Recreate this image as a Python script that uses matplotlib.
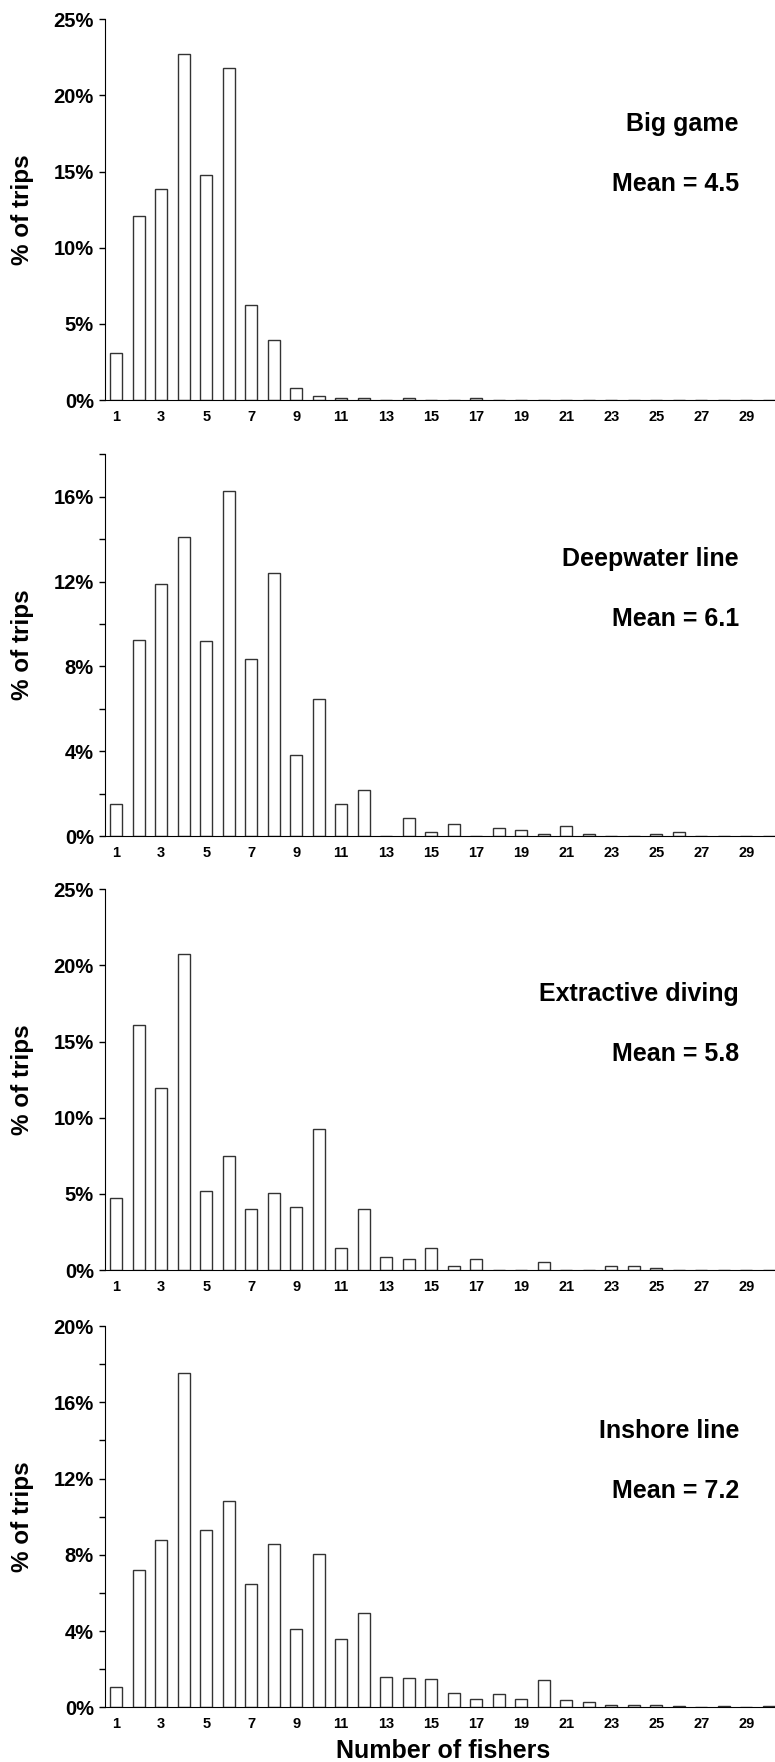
import numpy as np
import matplotlib
matplotlib.use("Agg")
import matplotlib.pyplot as plt

plt.rcParams['font.family'] = ['Liberation Sans', 'DejaVu Sans']
plt.rcParams['font.weight'] = 'bold'

# number of fishers per trip (1..30)
fishers = np.arange(1, 31)

# % of trips
big_game = [3.06, 12.1, 13.87, 22.75, 14.76, 21.77, 6.21, 3.94, 0.79, 0.28,
            0.1, 0.1, 0, 0.1, 0, 0, 0.1, 0, 0, 0,
            0, 0, 0, 0, 0, 0, 0, 0, 0, 0]
deepwater_line = [1.51, 9.26, 11.9, 14.09, 9.18, 16.27, 8.33, 12.39, 3.80, 6.44,
                  1.51, 2.19, 0, 0.87, 0.2, 0.58, 0, 0.39, 0.3, 0.11,
                  0.47, 0.11, 0, 0, 0.11, 0.2, 0, 0, 0, 0]
extractive_diving = [4.75, 16.11, 11.93, 20.75, 5.21, 7.46, 4.0, 5.06, 4.16, 9.26,
                     1.47, 4.0, 0.85, 0.7, 1.47, 0.24, 0.7, 0, 0, 0.55,
                     0, 0, 0.24, 0.24, 0.11, 0, 0, 0, 0, 0]
inshore_line = [1.08, 7.22, 8.76, 17.52, 9.28, 10.82, 6.49, 8.55, 4.09, 8.02,
                3.57, 4.97, 1.59, 1.54, 1.47, 0.77, 0.44, 0.7, 0.44, 1.42,
                0.37, 0.28, 0.14, 0.1, 0.1, 0.07, 0.03, 0.07, 0, 0.05]

names = ["Big game", "Deepwater line", "Extractive diving", "Inshore line"]
means = ["4.5", "6.1", "5.8", "7.2"]
series = [big_game, deepwater_line, extractive_diving, inshore_line]
ymax = [25, 18, 25, 20]
ytick_step = [5, 2, 5, 2]
ylabel_step = [5, 4, 5, 4]

xtick_labels = [str(v) for v in range(1, 30, 2)]

fig = plt.figure(figsize=(7.75, 17.62), dpi=100)
W, H = 775.0, 1762.0
# (top, bottom) of each axes in pixels
boxes = [(19.3, 400.0), (454.3, 836.0), (889.3, 1270.0), (1326.0, 1707.3)]
left_px = 105.0
unit_px = 22.5
ax_w = 30 * unit_px

for i, vals in enumerate(series):
    top, bot = boxes[i]
    ax = fig.add_axes([left_px / W, 1 - bot / H, ax_w / W, (bot - top) / H])
    ax.bar(fishers, vals, width=0.53, color='white', edgecolor='#333333', linewidth=1.0)
    ax.set_xlim(0.5, 30.5)
    ax.set_ylim(0, ymax[i])

    for s in ['top', 'right']:
        ax.spines[s].set_visible(False)
    ax.spines['left'].set_color('black')
    ax.spines['bottom'].set_color('black')

    ax.set_xticks(range(1, 30, 2))
    ax.set_xticklabels(xtick_labels, fontsize=10.5, fontweight='bold')
    ax.tick_params(axis='x', length=0, pad=7)

    yt = list(range(0, ymax[i] + 1, ytick_step[i]))
    ylabs = ["%d%%" % v if v % ylabel_step[i] == 0 else "" for v in yt]
    ax.set_yticks(yt)
    ax.set_yticklabels(ylabs, fontsize=14.5, fontweight='bold')
    ax.tick_params(axis='y', length=4, width=1, pad=4)

    ax.set_ylabel("% of trips", fontsize=17.5, fontweight='bold')
    ax.yaxis.set_label_coords((34 - left_px) / ax_w, 0.5)

    fig.text(739 / W, 1 - (top + 112) / H, names[i], ha='right', va='baseline',
             fontsize=18, fontweight='bold')
    fig.text(739 / W, 1 - (top + 171.5) / H, "Mean = " + means[i], ha='right', va='baseline',
             fontsize=18, fontweight='bold')

fig.text(443 / W, 1 - 1758 / H, "Number of fishers", ha='center', va='baseline',
         fontsize=18, fontweight='bold')

fig.savefig("out.png", dpi=100)
